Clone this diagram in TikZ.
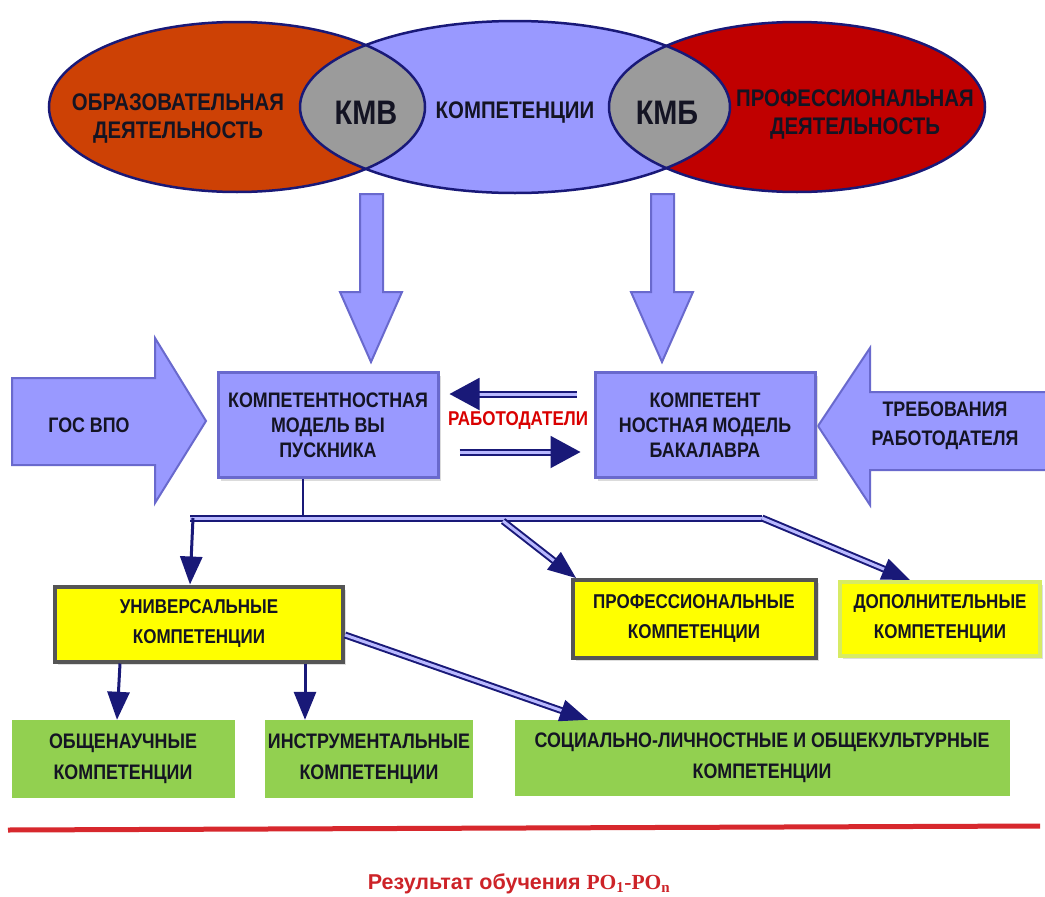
\documentclass[tikz,border=0pt]{standalone}
\usepackage{fontspec}
\setmainfont{Liberation Sans}
\newfontfamily\cond{Liberation Sans}[FakeStretch=0.85]
\newfontfamily\serb{Liberation Serif}
\usetikzlibrary{shapes.geometric,arrows.meta,calc,shadows}
\definecolor{navy}{RGB}{25,25,120}
\definecolor{lav}{RGB}{153,153,255}
\definecolor{lavl}{RGB}{185,185,255}
\definecolor{orng}{RGB}{205,65,5}
\definecolor{dred}{RGB}{192,0,0}
\definecolor{lensg}{RGB}{155,155,155}
\definecolor{boxb}{RGB}{105,105,205}
\definecolor{yel}{RGB}{255,255,0}
\definecolor{grn}{RGB}{146,208,80}
\definecolor{redl}{RGB}{215,40,45}
\definecolor{txtc}{RGB}{20,20,35}
\definecolor{yelb}{RGB}{85,85,85}
\definecolor{yelg}{RGB}{215,235,100}
\definecolor{restxt}{RGB}{205,35,40}
\begin{document}
\begin{tikzpicture}[x=1pt,y=-1pt,
  etxt/.style={font=\cond\bfseries\fontsize{24}{28}\selectfont, text=txtc, align=center, inner sep=0pt},
  ktxt/.style={font=\cond\bfseries\fontsize{34}{38}\selectfont, text=txtc, inner sep=0pt},
  bluebox/.style={draw=boxb, fill=lav, line width=3pt, align=center, text=txtc, inner sep=0pt,
     font=\cond\bfseries\fontsize{21}{25}\selectfont,
     drop shadow={shadow xshift=3pt, shadow yshift=-3pt, fill=gray!55}},
  yelbox/.style={draw=yelb, fill=yel, line width=4pt, align=center, text=txtc, inner sep=0pt,
     font=\cond\bfseries\fontsize{20}{30}\selectfont,
     drop shadow={shadow xshift=3pt, shadow yshift=-3pt, fill=gray!50}},
  grnbox/.style={fill=grn, align=center, text=txtc, inner sep=0pt,
     font=\cond\bfseries\fontsize{21}{31}\selectfont},
  blockarrow/.style={fill=lav, draw=boxb, line width=2pt, line join=miter},
  atxt/.style={font=\cond\bfseries\fontsize{21}{29}\selectfont, text=txtc, align=center, inner sep=0pt},
  dbl/.style={draw=navy, double=lavl, double distance=3pt, line width=2pt},
  tip/.style={-{Triangle[width=22pt,length=28pt]}, navy},
  bigtip/.style={-{Triangle[width=32pt,length=30pt]}, navy}
]
\useasboundingbox (0,0) rectangle (1045,897);
\fill[white] (0,0) rectangle (1045,897);

% ---------- ellipses ----------
\fill[orng] (237,107) ellipse [x radius=188, y radius=85];
\fill[dred] (797,107) ellipse [x radius=188, y radius=85];
\fill[lav]  (515,107) ellipse [x radius=215, y radius=86];
\begin{scope}
  \clip (237,107) ellipse [x radius=188, y radius=85];
  \fill[lensg] (515,107) ellipse [x radius=215, y radius=86];
\end{scope}
\begin{scope}
  \clip (797,107) ellipse [x radius=188, y radius=85];
  \fill[lensg] (515,107) ellipse [x radius=215, y radius=86];
\end{scope}
\node[ellipse, draw=navy, line width=2.5pt, minimum width=376pt, minimum height=170pt, inner sep=0pt] (eL) at (237,107) {};
\node[ellipse, draw=navy, line width=2.5pt, minimum width=430pt, minimum height=172pt, inner sep=0pt] (eM) at (515,107) {};
\node[ellipse, draw=navy, line width=2.5pt, minimum width=376pt, minimum height=170pt, inner sep=0pt] (eR) at (797,107) {};

\node[etxt] (tL) at (178,119) {ОБРАЗОВАТЕЛЬНАЯ\\ДЕЯТЕЛЬНОСТЬ};
\node[ktxt] (kmv) at (366,113) {КМВ};
\node[etxt] (tM) at (515,113) {КОМПЕТЕНЦИИ};
\node[ktxt] (kmb) at (667,113) {КМБ};
\node[etxt] (tR) at (855,115) {ПРОФЕССИОНАЛЬНАЯ\\ДЕЯТЕЛЬНОСТЬ};

% ---------- block arrows ----------
\draw[blockarrow] (360,194) -- (383,194) -- (383,292) -- (402,292) -- (371,362) -- (340,292) -- (360,292) -- cycle;
\draw[blockarrow] (651,194) -- (674,194) -- (674,292) -- (693,292) -- (662,362) -- (631,292) -- (651,292) -- cycle;
\draw[blockarrow] (12,378) -- (155,378) -- (155,338) -- (206,421) -- (155,503) -- (155,465) -- (12,465) -- cycle;
\draw[blockarrow] (1046,392) -- (870,392) -- (870,348) -- (818,426) -- (870,505) -- (870,470) -- (1046,470) -- cycle;
\node[atxt] (gos) at (89,425) {ГОС ВПО};
\node[atxt] (treb) at (945,426) {ТРЕБОВАНИЯ\\РАБОТОДАТЕЛЯ};

% ---------- model boxes ----------
\node[bluebox, minimum width=220pt, minimum height=105pt] (mv) at (328,425) {КОМПЕТЕНТНОСТНАЯ\\МОДЕЛЬ ВЫ\\ПУСКНИКА};
\node[bluebox, minimum width=220pt, minimum height=105pt] (mb) at (705,425) {КОМПЕТЕНТ\\НОСТНАЯ МОДЕЛЬ\\БАКАЛАВРА};

\draw[dbl, bigtip, shorten <=17pt, shorten >=10pt] ([yshift=31pt]mb.west) -- ([yshift=31pt]mv.east);
\draw[dbl, bigtip, shorten <=20pt, shorten >=13pt] ([yshift=-27pt]mv.east) -- ([yshift=-27pt]mb.west);
\node[font=\cond\bfseries\fontsize{20}{22}\selectfont, text=red!85!black, inner sep=0pt] (rab) at (518,421) {РАБОТОДАТЕЛИ};

% ---------- competence boxes ----------
\node[yelbox, minimum width=288pt, minimum height=75pt] (univ) at (199,624) {УНИВЕРСАЛЬНЫЕ\\КОМПЕТЕНЦИИ};
\node[yelbox, minimum width=243pt, minimum height=78pt] (prof) at (694,619) {ПРОФЕССИОНАЛЬНЫЕ\\КОМПЕТЕНЦИИ};
\node[yelbox, draw=yelg, line width=4pt, minimum width=200pt, minimum height=74pt, drop shadow={shadow xshift=2pt, shadow yshift=-2pt, fill=gray!25}] (dop) at (940,619) {ДОПОЛНИТЕЛЬНЫЕ\\КОМПЕТЕНЦИИ};

\node[grnbox, minimum width=223pt, minimum height=78pt] (obsh) at (123,759) {ОБЩЕНАУЧНЫЕ\\КОМПЕТЕНЦИИ};
\node[grnbox, minimum width=208pt, minimum height=78pt] (instr) at (369,759) {ИНСТРУМЕНТАЛЬНЫЕ\\КОМПЕТЕНЦИИ};
\node[grnbox, minimum width=495pt, minimum height=76pt] (soc) at (762,758) {СОЦИАЛЬНО-ЛИЧНОСТНЫЕ И ОБЩЕКУЛЬТУРНЫЕ\\КОМПЕТЕНЦИИ};

% ---------- tree connectors ----------
\coordinate (busL) at (190,518);
\coordinate (busM) at (303,518);
\coordinate (busP) at (503,521);
\coordinate (busR) at (762,518);
\draw[navy, line width=2.5pt] (mv.south -| busM) -- (busM);
\draw[dbl] (busL) -- (busR);
\draw[dbl, tip] (busR) -- ([xshift=-30pt]dop.north);
\draw[dbl, tip] (busP) -- ([xshift=-118pt]prof.north);
\draw[navy, line width=3pt, tip] ([xshift=3pt]busL) -- ([xshift=-9pt]univ.north);
\draw[navy, line width=3pt, tip] ([xshift=-79pt]univ.south) -- ([xshift=-6pt]obsh.north);
\draw[navy, line width=3pt, tip] ([xshift=106pt]univ.south) -- ([xshift=-64pt]instr.north);
\draw[dbl, tip] ([yshift=-11pt]univ.east) -- ([xshift=-174pt]soc.north);

% ---------- bottom ----------
\coordinate (rl1) at (8,830);
\coordinate (rl2) at (1040,826);
\draw[redl, line width=5pt] (rl1) -- (rl2);
\node[font=\bfseries\fontsize{21.5}{24}\selectfont, text=restxt, inner sep=0pt] (res) at (519,884) {Результат обучения {\serb РО\textsubscript{1}-РО\textsubscript{n}}};
\end{tikzpicture}
\end{document}
